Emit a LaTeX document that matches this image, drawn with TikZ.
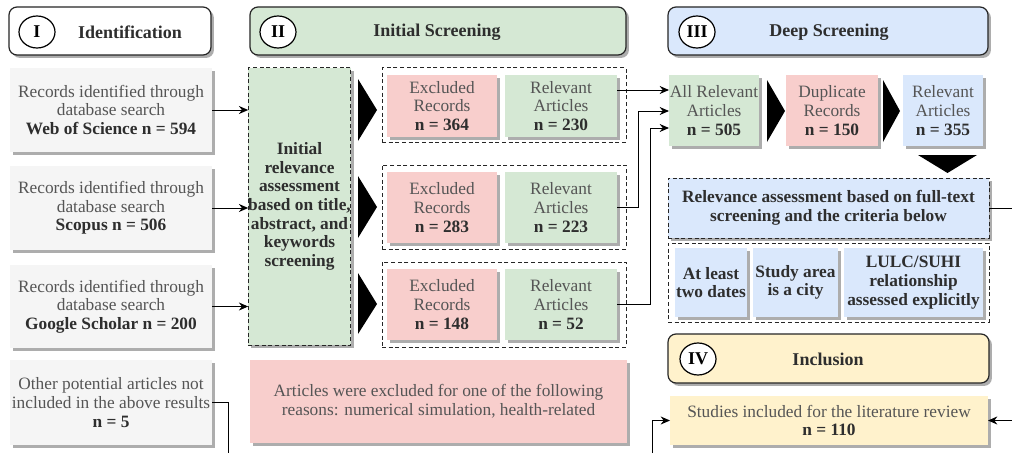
\documentclass[tikz,border=0pt]{standalone}
\usepackage{fontspec}
\setmainfont{Liberation Serif}
\usetikzlibrary{shadows,arrows.meta,shapes.geometric}
\definecolor{pinkf}{HTML}{F8CECC}
\definecolor{greenf}{HTML}{D5E8D4}
\definecolor{bluef}{HTML}{DAE8FC}
\definecolor{yellowf}{HTML}{FFF2CC}
\definecolor{grayf}{HTML}{F5F5F5}
\definecolor{txt}{HTML}{555555}
\definecolor{dk}{HTML}{2E2E2E}
\newcommand\bt[1]{\textcolor{dk}{\textbf{#1}}}
\newcommand\bx[7]{\node[#1, minimum width={(#5-#3)*0.75pt}, minimum height={(#6-#4)*0.75pt}] (#2) at ({(#3+#5)/2},{(#4+#6)/2}) {#7};}
\tikzset{
  shd/.style={drop shadow={shadow xshift=2.2pt,shadow yshift=-2.2pt,fill=black!32,opacity=1}},
  base/.style={inner sep=0pt,outer sep=0pt,align=center,text=txt,font=\fontsize{13}{14}\selectfont},
  src/.style={base,fill=grayf,shd},
  pk/.style={base,fill=pinkf,shd},
  gr/.style={base,fill=greenf,shd},
  bl/.style={base,fill=bluef,shd},
  yl/.style={base,fill=yellowf,shd},
  dsh/.style={draw=black!85,dash pattern=on 3pt off 2pt,line width=0.75pt},
  grp/.style={base,dsh},
  hdr/.style={base,rounded corners=6pt,draw=black!85,line width=0.9pt,shd},
  circ/.style={ellipse,draw=black,line width=0.9pt,fill=white,minimum width=27pt,minimum height=24pt,inner sep=0pt,text=black,font=\fontsize{13.5}{15}\selectfont\bfseries},
  htxt/.style={inner sep=0pt,text=dk,font=\fontsize{13.5}{15}\selectfont\bfseries},
  arr/.style={-{Stealth[length=7pt,width=6pt]},line width=0.75pt,black},
  ln/.style={line width=0.75pt,black},
  tri/.style={fill=black}
}
\begin{document}
\begin{tikzpicture}[x=0.75pt,y=-0.75pt]
\useasboundingbox[fill=white] (0,0) rectangle (1012,453);
% headers
\bx{hdr,fill=white}{h1}{9}{7}{211}{55}{}
\node[circ] (c1) at (37,32) {I};
\node[htxt] (t1) at (130,32) {Identification};
\bx{hdr,fill=greenf}{h2}{250}{7}{626}{55}{}
\node[circ] (c2) at (278,32) {II};
\node[htxt] (t2) at (437,32) {Initial Screening};
\bx{hdr,fill=bluef}{h3}{668}{7}{988}{55}{}
\node[circ] (c3) at (697,32) {III};
\node[htxt] (t3) at (829,32) {Deep Screening};
\bx{hdr,fill=yellowf}{h4}{668}{334}{989}{383}{}
\node[circ] (c4) at (698,359) {IV};
\node[htxt] (t4) at (828,359) {Inclusion};
% sources
\bx{src}{s1}{10}{68}{212}{152}{Records identified through\\database search\\\bt{Web of Science n = 594}}
\bx{src}{s2}{10}{166}{212}{250}{Records identified through\\database search\\\bt{Scopus n = 506}}
\bx{src}{s3}{10}{265}{212}{348}{Records identified through\\database search\\\bt{Google Scholar n = 200}}
\bx{src}{s4}{10}{360}{212}{445}{Other potential articles not\\included in the above results\\\bt{n = 5}}
% initial relevance
\bx{gr,dsh}{init}{250}{68}{349}{345}{\bt{Initial}\\\bt{relevance}\\\bt{assessment}\\\bt{based on title,}\\\bt{abstract, and}\\\bt{keywords}\\\bt{screening}}
\draw[arr] (s1.east) -- (s1.east -| init.west);
\draw[arr] (s2.east) -- (s2.east -| init.west);
\draw[arr] (s3.east) -- (s3.east -| init.west);
% triangles
\fill[tri] (358,79) -- (377,110) -- (358,141) -- cycle;
\fill[tri] (358,176) -- (377,207) -- (358,238) -- cycle;
\fill[tri] (358,273) -- (377,304) -- (358,334) -- cycle;
% groups
\bx{grp}{g1}{382}{68}{626}{142}{}
\bx{pk}{ex1}{387}{75}{497}{137}{Excluded\\Records\\\bt{n = 364}}
\bx{gr}{rel1}{505}{75}{617}{137}{Relevant\\Articles\\\bt{n = 230}}
\bx{grp}{g2}{382}{165}{626}{249}{}
\bx{pk}{ex2}{387}{172}{497}{243}{Excluded\\Records\\\bt{n = 283}}
\bx{gr}{rel2}{505}{172}{617}{243}{Relevant\\Articles\\\bt{n = 223}}
\bx{grp}{g3}{382}{262}{626}{347}{}
\bx{pk}{ex3}{387}{269}{497}{340}{Excluded\\Records\\\bt{n = 148}}
\bx{gr}{rel3}{505}{269}{617}{340}{Relevant\\Articles\\\bt{n = 52}}
\bx{pk}{excl}{250}{360}{627}{443}{Articles were excluded for one of the following\\reasons: numerical simulation, health-related}
% deep screening
\bx{gr}{allrel}{669}{75}{759}{146}{All Relevant\\Articles\\\bt{n = 505}}
\fill[tri] (767,80) -- (785,111) -- (767,142) -- cycle;
\bx{pk}{dup}{786}{75}{878}{146}{Duplicate\\Records\\\bt{n = 150}}
\fill[tri] (883,80) -- (900,111) -- (883,142) -- cycle;
\bx{bl}{relA}{903}{75}{983}{146}{Relevant\\Articles\\\bt{n = 355}}
\fill[tri] (918,155) -- (977,155) -- (947.5,173) -- cycle;
\bx{bl,dsh}{ra}{668}{178}{989}{238}{\bt{Relevance assessment based on full-text}\\\bt{screening and the criteria below}}
\bx{grp}{cg}{668}{243}{989}{322}{}
\bx{bl}{cr1}{675}{248}{747}{317}{\bt{At least}\\\bt{two dates}}
\bx{bl}{cr2}{753}{248}{838}{317}{\bt{Study area}\\\bt{is a city}}
\bx{bl}{cr3}{844}{248}{983}{317}{\bt{LULC/SUHI}\\\bt{relationship}\\\bt{assessed explicitly}}
% inclusion
\bx{yl}{stud}{670}{396}{988}{445}{Studies included for the literature review\\\bt{n = 110}}
% connectors
\coordinate (k1) at (617,90);
\draw[arr] (k1) -- (k1 -| allrel.west);
\coordinate (k2) at (638,111);
\draw[arr] (rel2.east) -| (k2) -- (k2 -| allrel.west);
\coordinate (k3) at (650,128);
\draw[arr] (rel3.east) -| (k3) -- (k3 -| allrel.west);
\coordinate (e1) at (1012,208);
\draw[ln] (ra.east) -- (e1);
\coordinate (e2) at (1012,420.5);
\draw[arr] (e2) -- (stud.east);
\coordinate (b1) at (228,453);
\draw[ln] (s4.east) -| (b1);
\coordinate (b2) at (652,453);
\draw[arr] (b2) |- (stud.west);
\end{tikzpicture}
\end{document}
